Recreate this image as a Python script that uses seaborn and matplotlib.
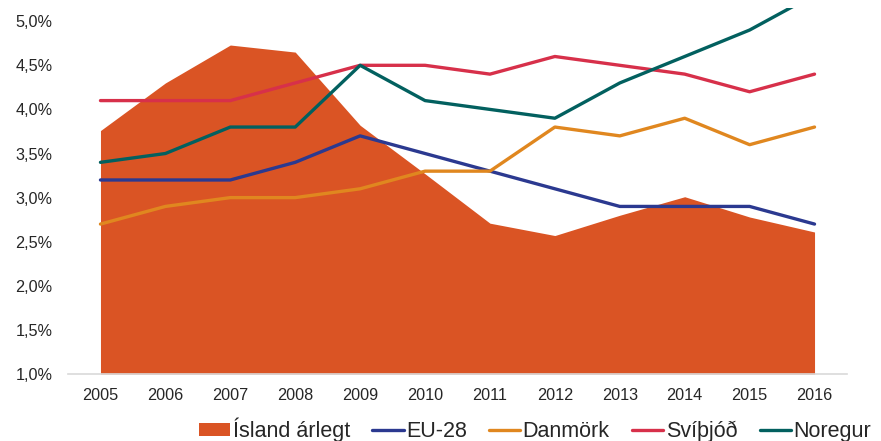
import numpy as np
import pandas as pd
import matplotlib
matplotlib.use("Agg")
import matplotlib.pyplot as plt
from matplotlib.patches import Patch
from matplotlib.lines import Line2D
import seaborn as sns

years = [2005, 2006, 2007, 2008, 2009, 2010, 2011, 2012, 2013, 2014, 2015, 2016]
island = [3.76, 4.30, 4.73, 4.65, 3.82, 3.27, 2.71, 2.57, 2.80, 3.01, 2.78, 2.61]
eu28 = [3.2, 3.2, 3.2, 3.4, 3.7, 3.5, 3.3, 3.1, 2.9, 2.9, 2.9, 2.7]
danmork = [2.7, 2.9, 3.0, 3.0, 3.1, 3.3, 3.3, 3.8, 3.7, 3.9, 3.6, 3.8]
svithjod = [4.1, 4.1, 4.1, 4.3, 4.5, 4.5, 4.4, 4.6, 4.5, 4.4, 4.2, 4.4]
noregur = [3.4, 3.5, 3.8, 3.8, 4.5, 4.1, 4.0, 3.9, 4.3, 4.6, 4.9, 5.3]

y_ticks = [1.0, 1.5, 2.0, 2.5, 3.0, 3.5, 4.0, 4.5, 5.0]

area_name = "Ísland árlegt"
area_color = "#DA5424"
series = {
    "EU-28": (eu28, "#2B3990"),
    "Danmörk": (danmork, "#E0871F"),
    "Svíþjóð": (svithjod, "#D7304A"),
    "Noregur": (noregur, "#02605F"),
}

sns.set_theme(style="white")
plt.rcParams["font.family"] = ["Liberation Sans", "DejaVu Sans"]

long = pd.concat(
    [pd.DataFrame({"Ár": years, "Gildi": vals, "Land": name})
     for name, (vals, _) in series.items()],
    ignore_index=True,
)
palette = {name: c for name, (_, c) in series.items()}

fig = plt.figure(figsize=(8.81, 4.41), dpi=100)
ax = fig.add_axes([0.0772, 0.1519, 0.9614 - 0.0772, 0.9819 - 0.1519])

ax.fill_between(years, island, 1.0, color=area_color, linewidth=0, zorder=1)
sns.lineplot(data=long, x="Ár", y="Gildi", hue="Land", palette=palette,
             linewidth=2.4, ax=ax, legend=False, zorder=3)

ax.set_xlim(2004.5, 2016.5)
ax.set_ylim(1.0, 5.15)
ax.set_xticks(years)
ax.set_xticklabels([str(y) for y in years])
ax.set_yticks(y_ticks)
ax.set_yticklabels([f"{v:.1f}%".replace(".", ",") for v in y_ticks])
ax.set_xlabel("")
ax.set_ylabel("")
ax.tick_params(axis="both", length=0, labelsize=11.7, colors="#262626")
ax.tick_params(axis="y", pad=11)
ax.tick_params(axis="x", pad=10)
for side in ["top", "right", "left"]:
    ax.spines[side].set_visible(False)
ax.spines["bottom"].set_color("#D9D9D9")
ax.spines["bottom"].set_linewidth(1.2)
ax.grid(False)

handles = [Patch(facecolor=area_color, edgecolor="none", label=area_name)]
handles += [Line2D([0], [0], color=c, linewidth=2.4, label=name)
            for name, (_, c) in series.items()]
fig.legend(handles=handles, loc="center", bbox_to_anchor=(535 / 881, 1 - 430 / 441),
           ncol=5, frameon=False, fontsize=15.5, handlelength=1.45,
           handleheight=0.6, handletextpad=0.1, columnspacing=1.05,
           borderaxespad=0, borderpad=0)

fig.savefig("out.png", dpi=100)
